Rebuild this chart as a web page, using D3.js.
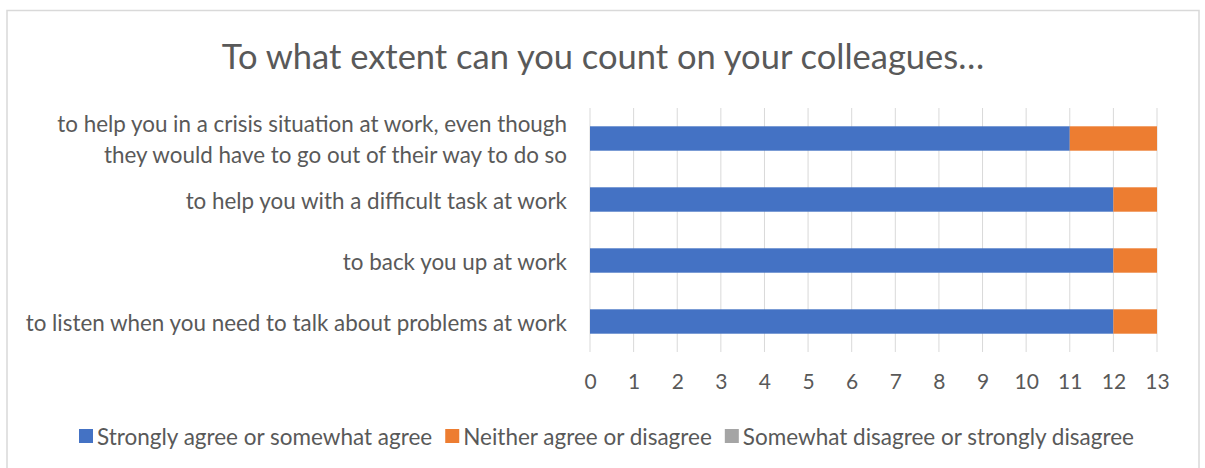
<!DOCTYPE html>
<html>
<head>
<meta charset="utf-8">
<script src="https://cdn.jsdelivr.net/npm/d3@7"></script>
<style>
  body { margin: 0; background: #fff; }
  svg { display: block; font-family: Lato, "Open Sans", sans-serif; }
</style>
</head>
<body>
<div id="chart"></div>
<script>
// Chart data
const title = 'To what extent can you count on your colleagues\u2026';
const categories = [
    ['to help you in a crisis situation at work, even though', 'they would have to go out of their way to do so'],
    ['to help you with a difficult task at work'],
    ['to back you up at work'],
    ['to listen when you need to talk about problems at work']
];
const seriesNames = ['Strongly agree or somewhat agree', 'Neither agree or disagree', 'Somewhat disagree or strongly disagree'];
const agree = [11, 12, 12, 12];
const neither = [2, 1, 1, 1];
const disagree = [0, 0, 0, 0];
const xTicks = [0, 1, 2, 3, 4, 5, 6, 7, 8, 9, 10, 11, 12, 13];

const colors = ['#4472C4', '#ED7D31', '#A5A5A5'];
const textColor = '#595959';

const width = 1205, height = 468;
// plot area
const plot = {left: 590, right: 1157, top: 108, bottom: 352};

const svg = d3.select('#chart').append('svg')
    .attr('width', width)
    .attr('height', height);

// chart frame
svg.append('rect')
    .attr('x', 7).attr('y', 10.5)
    .attr('width', 1192).attr('height', 480)
    .attr('fill', '#fff')
    .attr('stroke', '#D9D9D9')
    .attr('stroke-width', 1.5);

svg.append('text')
    .attr('x', 603).attr('y', 55)
    .attr('text-anchor', 'middle')
    .attr('dominant-baseline', 'central')
    .attr('fill', textColor)
    .attr('font-size', 34.5)
    .text(title);

const keys = categories.map((c, i) => i);
const x = d3.scaleLinear().domain([0, 13]).range([plot.left, plot.right]);
const y = d3.scaleBand().domain(keys).range([plot.top, plot.bottom])
    .paddingInner(0.6).paddingOuter(0.3);

// gridlines
svg.append('g').selectAll('line')
    .data(xTicks)
    .join('line')
    .attr('x1', d => x(d)).attr('x2', d => x(d))
    .attr('y1', plot.top).attr('y2', plot.bottom)
    .attr('stroke', '#D9D9D9')
    .attr('stroke-width', 1);

// stacked bars
const rows = keys.map(i => ({key: i, v0: agree[i], v1: neither[i], v2: disagree[i]}));
const stack = d3.stack().keys(['v0', 'v1', 'v2'])(rows);

svg.append('g').selectAll('g')
    .data(stack)
    .join('g')
    .attr('fill', (d, i) => colors[i])
    .selectAll('rect')
    .data(d => d)
    .join('rect')
    .attr('x', d => x(d[0]))
    .attr('width', d => x(d[1]) - x(d[0]))
    .attr('y', d => y(d.data.key))
    .attr('height', y.bandwidth());

// x axis labels
const xAxis = svg.append('g')
    .attr('transform', `translate(0,${plot.bottom + 17})`)
    .call(d3.axisBottom(x).tickValues(xTicks).tickSize(0).tickPadding(5));
xAxis.select('.domain').remove();
xAxis.selectAll('text')
    .attr('fill', textColor)
    .attr('font-size', 21)
    .attr('font-family', 'Lato, sans-serif');

// category labels
const lineGap = 31;
const labels = svg.append('g').selectAll('text')
    .data(keys)
    .join('text')
    .attr('text-anchor', 'end')
    .attr('fill', textColor)
    .attr('font-size', 22.4)
    .attr('dominant-baseline', 'central')
    .attr('transform', d => `translate(567,${y(d) + y.bandwidth() / 2})`);
labels.selectAll('tspan')
    .data(d => categories[d].map((t, j, a) => ({t, dy: (j - (a.length - 1) / 2) * lineGap})))
    .join('tspan')
    .attr('x', 0)
    .attr('y', d => d.dy)
    .text(d => d.t);

// legend
const legend = svg.append('g').attr('transform', 'translate(0,436)');
let lx = 79;
seriesNames.forEach((name, i) => {
    const g = legend.append('g').attr('transform', `translate(${lx},0)`);
    g.append('rect')
        .attr('x', 0).attr('y', -7)
        .attr('width', 14).attr('height', 14)
        .attr('fill', colors[i]);
    const t = g.append('text')
        .attr('x', 18)
        .attr('dominant-baseline', 'central')
        .attr('fill', textColor)
        .attr('font-size', 22.5)
        .text(name);
    lx += 18 + t.node().getComputedTextLength() + 13;
});
</script>
</body>
</html>
